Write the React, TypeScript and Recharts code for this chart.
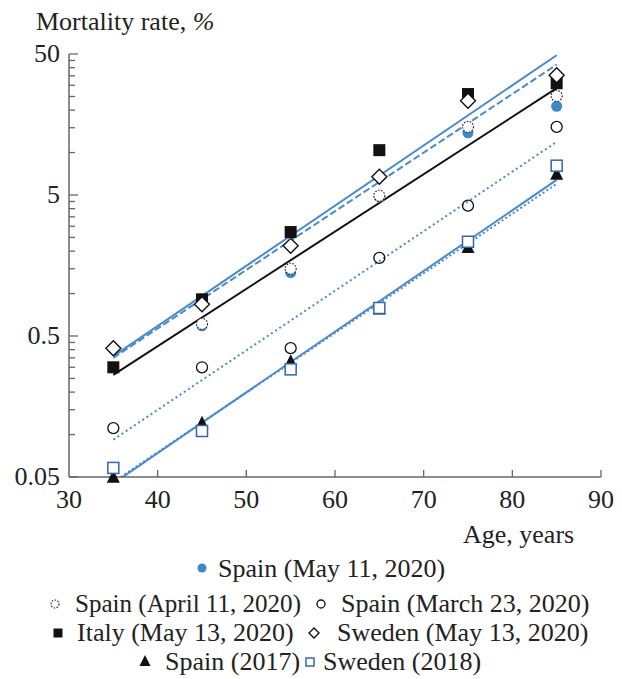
import React from 'react';
import { ComposedChart, Scatter, Line, XAxis, YAxis } from 'recharts';

// ages of the age groups (midpoints)
const AGES = [35, 45, 55, 65, 75, 85];

// mortality rate, % (null = not shown)
const SPAIN_MAY11 = [null, 0.59, 1.41, 4.86, 13.8, 21.3];
const SPAIN_APR11 = [null, 0.61, 1.5, 4.94, 15.2, 25.2];
const SPAIN_MAR23 = [0.111, 0.3, 0.41, 1.79, 4.2, 15.2];
const ITALY_MAY13 = [0.3, 0.91, 2.73, 10.4, 26, 31];
const SWEDEN_MAY13 = [0.41, 0.84, 2.18, 6.74, 23.3, 35.3];
const SPAIN_2017 = [0.05, 0.121, 0.33, 0.78, 2.13, 7.05];
const SWEDEN_2018 = [0.058, 0.106, 0.29, 0.79, 2.33, 8.07];

// exponential fits, end points at 35 and 85 years
const FIT_AGES = [35, 85];
const FIT_TOP = [0.36, 49];
const FIT_DASHED = [0.35, 42];
const FIT_BLACK = [0.265, 28.6];
const FIT_DOTTED = [0.092, 11.9];
const FIT_LOW = [0.045, 6.4];
const FIT_LOW_DOTTED = [0.046, 6.0];

const X_TICKS = [30, 40, 50, 60, 70, 80, 90];
const Y_MAJOR = [0.05, 0.5, 5, 50];
const Y_TICKS = [
  0.05, 0.1, 0.15, 0.2, 0.25, 0.3, 0.35, 0.4, 0.45,
  0.5, 1, 1.5, 2, 2.5, 3, 3.5, 4, 4.5,
  5, 10, 15, 20, 25, 30, 35, 40, 45, 50,
];

const FONT = '"Liberation Serif", "Times New Roman", serif';
const AXIS = '#666';
const BLUE = '#4a89cc';
const BLUE_DOT = '#3b8ac4';
const BLUE_SQ = '#3466a8';

const toPts = (vals: (number | null)[]) =>
  AGES.map((age, i) => ({ age, v: vals[i] })).filter((d) => d.v != null);
const toFit = (vals: number[]) => FIT_AGES.map((age, i) => ({ age, v: vals[i] }));

const XTick = (props: any) => {
  const { x, y, payload } = props;
  return (
    <g>
      {payload.value !== 30 && (
        <line x1={x} x2={x} y1={y} y2={y - 7} stroke={AXIS} strokeWidth={1.3} />
      )}
      <text x={x} y={y + 31} textAnchor="middle" fontFamily={FONT} fontSize={26} fill="#222">
        {payload.value}
      </text>
    </g>
  );
};

const YTick = (props: any) => {
  const { x, y, payload } = props;
  const major = Y_MAJOR.includes(payload.value);
  return (
    <g>
      <line x1={x} x2={x + (major ? 9 : 6)} y1={y} y2={y} stroke={AXIS} strokeWidth={1.3} />
      {major && (
        <text x={x - 9} y={y + 8} textAnchor="end" fontFamily={FONT} fontSize={26} fill="#222">
          {payload.value}
        </text>
      )}
    </g>
  );
};

// marker shapes
const FilledDot = ({ cx, cy, r = 5.5 }: any) => <circle cx={cx} cy={cy} r={r} fill={BLUE_DOT} />;
const DottedCircle = ({ cx, cy, r = 5.5 }: any) => (
  <circle cx={cx} cy={cy} r={r} fill="#fff" stroke="#222" strokeWidth={1.2} strokeDasharray="1.5 1.5" />
);
const OpenCircle = ({ cx, cy, r = 5.5 }: any) => (
  <circle cx={cx} cy={cy} r={r} fill="none" stroke="#111" strokeWidth={1.3} />
);
const FilledSquare = ({ cx, cy, s = 12 }: any) => (
  <rect x={cx - s / 2} y={cy - s / 2} width={s} height={s} fill="#111" />
);
const Diamond = ({ cx, cy, h = 7.5 }: any) => (
  <polygon
    points={`${cx},${cy - h} ${cx + h},${cy} ${cx},${cy + h} ${cx - h},${cy}`}
    fill="#fff"
    stroke="#111"
    strokeWidth={1.4}
  />
);
const Triangle = ({ cx, cy, s = 13 }: any) => (
  <polygon
    points={`${cx},${cy - s * 0.55} ${cx + s / 2},${cy + s * 0.45} ${cx - s / 2},${cy + s * 0.45}`}
    fill="#111"
  />
);
const OpenSquare = ({ cx, cy, s = 11 }: any) => (
  <rect x={cx - s / 2} y={cy - s / 2} width={s} height={s} fill="#fff" stroke={BLUE_SQ} strokeWidth={1.5} />
);

const txt = { fontFamily: FONT, fontSize: 26, fill: '#222' };

export default function App() {
  return (
    <div style={{ position: 'relative', width: 614, height: 670, overflow: 'hidden', background: '#fff' }}>
      <ComposedChart width={614} height={520} margin={{ top: 46, right: 21, bottom: 26, left: 0 }}>
        <XAxis
          type="number"
          dataKey="age"
          domain={[30, 90]}
          ticks={X_TICKS}
          interval={0}
          tickLine={false}
          tickSize={0}
          tickMargin={0}
          tick={XTick}
          axisLine={{ stroke: AXIS, strokeWidth: 1.5 }}
          height={25}
        />
        <YAxis
          yAxisId="fit"
          type="number"
          dataKey="v"
          scale="log"
          domain={[0.05, 50]}
          allowDataOverflow
          ticks={Y_TICKS}
          interval={0}
          tickLine={false}
          tickSize={0}
          tickMargin={0}
          tick={YTick}
          axisLine={{ stroke: AXIS, strokeWidth: 1.5 }}
          width={61}
        />
        <YAxis yAxisId="pts" hide type="number" dataKey="v" scale="log" domain={[0.05, 50]} />

        <Line yAxisId="fit" data={toFit(FIT_LOW_DOTTED)} dataKey="v" stroke={BLUE} strokeWidth={2} strokeDasharray="2 2.5" dot={false} isAnimationActive={false} />
        <Line yAxisId="fit" data={toFit(FIT_LOW)} dataKey="v" stroke={BLUE} strokeWidth={2} dot={false} isAnimationActive={false} />
        <Line yAxisId="fit" data={toFit(FIT_DOTTED)} dataKey="v" stroke={BLUE} strokeWidth={2} strokeDasharray="2 3" dot={false} isAnimationActive={false} />
        <Line yAxisId="fit" data={toFit(FIT_BLACK)} dataKey="v" stroke="#111" strokeWidth={2} dot={false} isAnimationActive={false} />
        <Line yAxisId="fit" data={toFit(FIT_DASHED)} dataKey="v" stroke={BLUE} strokeWidth={2} strokeDasharray="7 3" dot={false} isAnimationActive={false} />
        <Line yAxisId="fit" data={toFit(FIT_TOP)} dataKey="v" stroke={BLUE} strokeWidth={2} dot={false} isAnimationActive={false} />

        <Scatter yAxisId="pts" name="Spain (May 11, 2020)" data={toPts(SPAIN_MAY11)} isAnimationActive={false} shape={(p: any) => <FilledDot cx={p.cx} cy={p.cy} />} />
        <Scatter yAxisId="pts" name="Spain (April 11, 2020)" data={toPts(SPAIN_APR11)} isAnimationActive={false} shape={(p: any) => <DottedCircle cx={p.cx} cy={p.cy} />} />
        <Scatter yAxisId="pts" name="Spain (March 23, 2020)" data={toPts(SPAIN_MAR23)} isAnimationActive={false} shape={(p: any) => <OpenCircle cx={p.cx} cy={p.cy} />} />
        <Scatter yAxisId="pts" name="Italy (May 13, 2020)" data={toPts(ITALY_MAY13)} isAnimationActive={false} shape={(p: any) => <FilledSquare cx={p.cx} cy={p.cy} />} />
        <Scatter yAxisId="pts" name="Sweden (May 13, 2020)" data={toPts(SWEDEN_MAY13)} isAnimationActive={false} shape={(p: any) => <Diamond cx={p.cx} cy={p.cy} />} />
        <Scatter yAxisId="pts" name="Spain (2017)" data={toPts(SPAIN_2017)} isAnimationActive={false} shape={(p: any) => <Triangle cx={p.cx} cy={p.cy} />} />
        <Scatter yAxisId="pts" name="Sweden (2018)" data={toPts(SWEDEN_2018)} isAnimationActive={false} shape={(p: any) => <OpenSquare cx={p.cx} cy={p.cy} />} />
      </ComposedChart>

      <svg width={614} height={670} style={{ position: 'absolute', left: 0, top: 0, pointerEvents: 'none' }}>
        <text x={28} y={22} {...txt}>
          Mortality rate, <tspan fontStyle="italic">%</tspan>
        </text>
        <text x={455} y={535} {...txt}>Age, years</text>

        {/* legend */}
        <FilledDot cx={194} cy={560} r={4.5} />
        <text x={210} y={569} {...txt}>Spain (May 11, 2020)</text>

        <DottedCircle cx={47} cy={596} r={4} />
        <text x={67} y={604} {...txt} textLength={226} lengthAdjust="spacingAndGlyphs">Spain (April 11, 2020)</text>
        <OpenCircle cx={313} cy={596} r={4} />
        <text x={333} y={604} {...txt}>Spain (March 23, 2020)</text>

        <FilledSquare cx={50} cy={625} s={9} />
        <text x={69} y={633} {...txt}>Italy (May 13, 2020)</text>
        <Diamond cx={306} cy={625} h={5} />
        <text x={329} y={633} {...txt}>Sweden (May 13, 2020)</text>

        <Triangle cx={137} cy={653} s={11} />
        <text x={157} y={662} {...txt}>Spain (2017)</text>
        <OpenSquare cx={302} cy={654} s={8} />
        <text x={315} y={662} {...txt}>Sweden (2018)</text>
      </svg>
    </div>
  );
}
